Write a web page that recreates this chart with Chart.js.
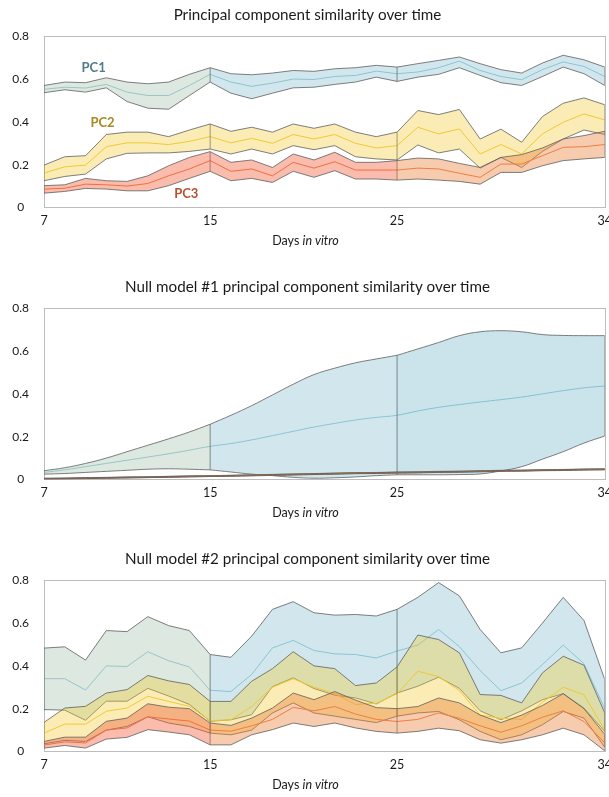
<!DOCTYPE html>
<html>
<head>
<meta charset="utf-8">
<script src="https://cdn.jsdelivr.net/npm/chart.js@4.4.1/dist/chart.umd.min.js"></script>
<style>
  html, body { margin: 0; padding: 0; background: #fff; overflow: hidden; width: 609px; height: 797px; }
  .panel { position: absolute; left: -3px; width: 621px; height: 272px; }
</style>
</head>
<body>
<div class="panel" style="top:0"><canvas id="c1"></canvas></div>
<div class="panel" style="top:272px"><canvas id="c2"></canvas></div>
<div class="panel" style="top:544px"><canvas id="c3"></canvas></div>
<script>
// ---- axis layout: 28 sampled days, labelled at four of them ----
const dayTickPos  = [0, 8, 17, 27];
const dayTickText = ['7', '15', '25', '34'];
const segments    = [[0, 8], [8, 17], [17, 27]];   // recording blocks

// ---- Panel 1: observed principal component similarity ----
const obsPc1Lo   = [0.536,0.550,0.539,0.559,0.495,0.464,0.459,0.523,0.586, 0.534,0.508,0.534,0.559,0.562,0.575,0.586,0.609,0.589, 0.609,0.622,0.653,0.617,0.583,0.570,0.612,0.656,0.625,0.570];
const obsPc1Mean = [0.552,0.562,0.558,0.575,0.539,0.523,0.523,0.570,0.622, 0.586,0.566,0.581,0.600,0.598,0.612,0.617,0.637,0.625, 0.633,0.653,0.684,0.640,0.612,0.597,0.644,0.680,0.659,0.612];
const obsPc1Hi   = [0.570,0.586,0.583,0.606,0.586,0.578,0.586,0.622,0.653, 0.625,0.620,0.628,0.640,0.636,0.648,0.653,0.664,0.656, 0.672,0.687,0.703,0.672,0.644,0.628,0.675,0.711,0.690,0.656];
const obsPc2Lo   = [0.125,0.145,0.156,0.227,0.253,0.255,0.255,0.262,0.273, 0.250,0.273,0.250,0.289,0.270,0.289,0.237,0.227,0.222, 0.292,0.255,0.273,0.184,0.234,0.187,0.262,0.320,0.362,0.341];
const obsPc2Mean = [0.161,0.190,0.198,0.284,0.302,0.302,0.294,0.309,0.331, 0.302,0.323,0.300,0.341,0.320,0.341,0.300,0.278,0.289, 0.375,0.344,0.367,0.250,0.294,0.250,0.344,0.398,0.437,0.409];
const obsPc2Hi   = [0.198,0.237,0.242,0.341,0.352,0.352,0.331,0.362,0.390, 0.356,0.375,0.352,0.390,0.370,0.390,0.352,0.331,0.352, 0.453,0.434,0.458,0.320,0.366,0.305,0.425,0.487,0.512,0.480];
const obsPc3Lo   = [0.067,0.075,0.089,0.086,0.078,0.078,0.102,0.136,0.169, 0.125,0.136,0.117,0.169,0.141,0.172,0.133,0.133,0.128, 0.133,0.128,0.122,0.109,0.164,0.164,0.195,0.219,0.227,0.234];
const obsPc3Mean = [0.086,0.090,0.109,0.106,0.100,0.112,0.148,0.180,0.219, 0.169,0.180,0.148,0.211,0.184,0.214,0.175,0.175,0.175, 0.184,0.180,0.160,0.141,0.203,0.203,0.242,0.281,0.284,0.294];
const obsPc3Hi   = [0.102,0.106,0.136,0.125,0.122,0.148,0.195,0.234,0.261, 0.211,0.222,0.187,0.250,0.222,0.258,0.211,0.211,0.219, 0.231,0.227,0.206,0.187,0.234,0.247,0.278,0.320,0.336,0.356];

// ---- Panel 2: null model #1 ----
const n1Pc1Lo   = [0.025,0.028,0.033,0.038,0.043,0.048,0.050,0.048,0.045, 0.035,0.025,0.018,0.010,0.006,0.008,0.012,0.018,0.022, 0.022,0.022,0.023,0.026,0.040,0.060,0.095,0.130,0.170,0.203];
const n1Pc1Mean = [0.033,0.045,0.060,0.075,0.090,0.105,0.120,0.137,0.155, 0.168,0.185,0.205,0.225,0.245,0.262,0.278,0.290,0.300, 0.320,0.337,0.350,0.362,0.373,0.385,0.400,0.415,0.428,0.437];
const n1Pc1Hi   = [0.041,0.055,0.075,0.100,0.130,0.160,0.190,0.222,0.258, 0.300,0.345,0.395,0.445,0.490,0.520,0.545,0.563,0.580, 0.610,0.640,0.672,0.690,0.695,0.690,0.677,0.673,0.672,0.672];
const n1Pc2Lo   = [0.002,0.003,0.005,0.006,0.008,0.009,0.011,0.013,0.014, 0.016,0.018,0.020,0.022,0.024,0.026,0.028,0.029,0.031, 0.032,0.034,0.035,0.037,0.039,0.040,0.042,0.043,0.045,0.046];
const n1Pc2Mean = [0.004,0.005,0.007,0.008,0.010,0.011,0.013,0.015,0.016, 0.018,0.020,0.022,0.024,0.026,0.028,0.030,0.031,0.033, 0.034,0.036,0.037,0.039,0.041,0.042,0.044,0.045,0.047,0.048];
const n1Pc2Hi   = [0.006,0.007,0.009,0.010,0.012,0.013,0.015,0.017,0.018, 0.020,0.022,0.024,0.026,0.028,0.030,0.032,0.033,0.035, 0.036,0.038,0.039,0.041,0.043,0.044,0.046,0.047,0.049,0.050];
const n1Pc3Lo   = [0.002,0.003,0.004,0.006,0.007,0.009,0.010,0.012,0.014, 0.015,0.017,0.019,0.021,0.023,0.025,0.027,0.028,0.030, 0.031,0.033,0.034,0.036,0.038,0.039,0.041,0.042,0.044,0.045];
const n1Pc3Mean = [0.003,0.004,0.006,0.007,0.009,0.010,0.012,0.014,0.015, 0.017,0.019,0.021,0.023,0.025,0.027,0.029,0.030,0.032, 0.033,0.035,0.036,0.038,0.040,0.041,0.043,0.044,0.046,0.047];
const n1Pc3Hi   = [0.005,0.006,0.008,0.009,0.011,0.012,0.014,0.016,0.017, 0.019,0.021,0.023,0.025,0.027,0.029,0.031,0.032,0.034, 0.035,0.037,0.038,0.040,0.042,0.043,0.045,0.046,0.048,0.049];

// ---- Panel 3: null model #2 ----
const n2Pc1Lo   = [0.196,0.193,0.146,0.235,0.235,0.295,0.259,0.220,0.141, 0.148,0.172,0.303,0.344,0.294,0.263,0.250,0.222,0.273, 0.305,0.347,0.295,0.190,0.148,0.190,0.242,0.270,0.203,0.094];
const n2Pc1Mean = [0.340,0.340,0.287,0.400,0.397,0.466,0.424,0.395,0.286, 0.280,0.360,0.484,0.519,0.472,0.456,0.453,0.437,0.469, 0.497,0.570,0.490,0.378,0.284,0.320,0.406,0.497,0.410,0.200];
const n2Pc1Hi   = [0.483,0.489,0.427,0.565,0.560,0.630,0.588,0.565,0.453, 0.440,0.539,0.664,0.700,0.648,0.637,0.640,0.633,0.664, 0.720,0.789,0.727,0.570,0.461,0.484,0.600,0.720,0.612,0.336];
const n2Pc2Lo   = [0.036,0.052,0.047,0.100,0.117,0.162,0.133,0.117,0.086, 0.078,0.100,0.180,0.227,0.180,0.165,0.150,0.135,0.165, 0.180,0.187,0.148,0.094,0.055,0.078,0.125,0.187,0.156,0.020];
const n2Pc2Mean = [0.086,0.128,0.128,0.188,0.203,0.258,0.234,0.211,0.144, 0.148,0.210,0.300,0.340,0.300,0.270,0.220,0.225,0.270, 0.375,0.350,0.285,0.170,0.155,0.150,0.230,0.300,0.265,0.100];
const n2Pc2Hi   = [0.136,0.203,0.211,0.273,0.289,0.355,0.330,0.313,0.234, 0.234,0.328,0.387,0.466,0.400,0.387,0.308,0.320,0.395, 0.544,0.523,0.461,0.266,0.262,0.227,0.367,0.445,0.403,0.180];
const n2Pc3Lo   = [0.016,0.028,0.016,0.058,0.066,0.102,0.091,0.078,0.031, 0.031,0.078,0.102,0.133,0.117,0.133,0.110,0.094,0.086, 0.094,0.109,0.097,0.055,0.039,0.055,0.078,0.109,0.078,0.003];
const n2Pc3Mean = [0.030,0.045,0.040,0.100,0.110,0.162,0.152,0.142,0.100, 0.095,0.120,0.150,0.206,0.190,0.210,0.175,0.150,0.140, 0.150,0.180,0.155,0.120,0.090,0.120,0.160,0.190,0.140,0.040];
const n2Pc3Hi   = [0.047,0.067,0.067,0.141,0.156,0.223,0.207,0.200,0.133, 0.122,0.156,0.203,0.273,0.242,0.280,0.240,0.205,0.200, 0.210,0.250,0.227,0.170,0.135,0.170,0.215,0.270,0.200,0.080];

// ---- styling ----
const FONT = 'Lato, "Open Sans", sans-serif';
Chart.defaults.font.family = FONT;
Chart.defaults.color = '#1a1a1a';

const OUTLINE = 'rgba(95,95,95,0.8)';
const FILL = {
  sage:   'rgba(130,170,140,0.27)',
  blue:   'rgba(75,160,185,0.25)',
  blue2:  'rgba(70,155,180,0.28)',
  yellow: 'rgba(240,200,40,0.35)',
  salmon: 'rgba(240,95,60,0.42)',
  peach:  'rgba(235,130,60,0.42)'
};
const MEAN = { pc1: '#9fd0dc', pc2: '#f1c93c', pc3: '#f27a45' };
const PAGE_CENTER = 308.5;   // horizontal centre of the page inside each canvas

function pts(arr, a, b) {
  const out = [];
  for (let i = a; i <= b; i++) out.push({ x: i, y: arr[i] });
  return out;
}

// one PC: a closed band per recording block plus its mean trace
function band(lo, mean, hi, fills, meanColor, order, tension) {
  const ds = [];
  const base = { pointRadius: 0, pointHoverRadius: 0, borderWidth: 1, order, tension };
  segments.forEach(([a, b], s) => {
    ds.push({ ...base, data: pts(lo, a, b), borderColor: OUTLINE, fill: false });
    ds.push({ ...base, data: pts(hi, a, b), borderColor: OUTLINE, fill: '-1', backgroundColor: fills[s] });
  });
  // block edges
  dayTickPos.forEach(p => {
    ds.push({ ...base, tension: 0, data: [{ x: p, y: lo[p] }, { x: p, y: hi[p] }], borderColor: OUTLINE, fill: false });
  });
  ds.push({ ...base, data: pts(mean, 0, 27), borderColor: meanColor, fill: false });
  return ds;
}

const framePlugin = {
  id: 'frame',
  beforeDatasetsDraw(chart) {
    const { ctx, chartArea: c } = chart;
    ctx.save();
    ctx.strokeStyle = '#bdbdbd';
    ctx.lineWidth = 1;
    ctx.strokeRect(Math.round(c.left) + 0.5, Math.round(c.top) + 0.5, Math.round(c.right - c.left), Math.round(c.bottom - c.top));
    ctx.restore();
  }
};

// "Days in vitro" with the latin phrase in italics
const xTitlePlugin = {
  id: 'xTitle',
  afterDraw(chart) {
    const { ctx, chartArea: c } = chart;
    const y = c.bottom + 33.5;
    ctx.save();
    ctx.fillStyle = '#1a1a1a';
    ctx.textBaseline = 'middle';
    const f1 = '12.5px ' + FONT, f2 = 'italic 12.5px ' + FONT;
    ctx.font = f1; const w1 = ctx.measureText('Days ').width;
    ctx.font = f2; const w2 = ctx.measureText('in vitro').width;
    const x0 = PAGE_CENTER - (w1 + w2) / 2;
    ctx.font = f1; ctx.textAlign = 'left'; ctx.fillText('Days ', x0, y);
    ctx.font = f2; ctx.fillText('in vitro', x0 + w1, y);
    ctx.restore();
  }
};

const pcLabels = [
  { text: 'PC1', x: 2.39, y: 0.653, color: '#4f7d8b' },
  { text: 'PC2', x: 2.82, y: 0.396, color: '#a68a1e' },
  { text: 'PC3', x: 6.85, y: 0.062, color: '#b8512f' }
];
const pcLabelPlugin = {
  id: 'pcLabels',
  afterDatasetsDraw(chart) {
    const { ctx, scales: { x, y } } = chart;
    ctx.save();
    ctx.font = 'bold 13px ' + FONT;
    ctx.textAlign = 'center';
    ctx.textBaseline = 'middle';
    pcLabels.forEach(l => {
      ctx.fillStyle = l.color;
      ctx.fillText(l.text, x.getPixelForValue(l.x), y.getPixelForValue(l.y));
    });
    ctx.restore();
  }
};

function makeChart(id, title, datasets, extraPlugins) {
  return new Chart(document.getElementById(id), {
    type: 'line',
    data: { datasets },
    plugins: [framePlugin, xTitlePlugin].concat(extraPlugins || []),
    options: {
      responsive: true,
      maintainAspectRatio: false,
      animation: false,
      events: [],
      layout: { padding: { left: 0, right: 0, top: 0, bottom: 37.5 } },
      plugins: {
        legend: { display: false },
        tooltip: { enabled: false },
        title: {
          display: true, text: title, color: '#1a1a1a',
          font: { size: 15.2, weight: 'normal' },
          padding: { top: 6, bottom: 12 }
        }
      },
      scales: {
        x: {
          type: 'linear', min: 0, max: 27,
          grid: { display: false, drawTicks: false },
          border: { display: false },
          afterBuildTicks: s => { s.ticks = dayTickPos.map(v => ({ value: v })); },
          ticks: {
            autoSkip: false, maxRotation: 0, padding: 6,
            font: { size: 12.5 },
            callback: v => dayTickText[dayTickPos.indexOf(v)]
          }
        },
        y: {
          min: 0, max: 0.8,
          grid: { display: false, drawTicks: false },
          border: { display: false },
          afterFit: s => { s.width = 47; },
          ticks: {
            stepSize: 0.2, crossAlign: 'center', padding: 15,
            font: { size: 12 },
            callback: v => (v === 0 ? '0' : v.toFixed(1))
          }
        }
      }
    }
  });
}

makeChart('c1', 'Principal component similarity over time', [].concat(
  band(obsPc3Lo, obsPc3Mean, obsPc3Hi, [FILL.salmon, FILL.salmon, FILL.peach], MEAN.pc3, 1, 0),
  band(obsPc2Lo, obsPc2Mean, obsPc2Hi, [FILL.yellow, FILL.yellow, FILL.yellow], MEAN.pc2, 2, 0),
  band(obsPc1Lo, obsPc1Mean, obsPc1Hi, [FILL.sage, FILL.blue, FILL.blue], MEAN.pc1, 3, 0)
), [pcLabelPlugin]);

makeChart('c2', 'Null model #1 principal component similarity over time', [].concat(
  band(n1Pc3Lo, n1Pc3Mean, n1Pc3Hi, [FILL.salmon, FILL.peach, FILL.peach], MEAN.pc3, 1, 0.4),
  band(n1Pc2Lo, n1Pc2Mean, n1Pc2Hi, [FILL.yellow, FILL.yellow, FILL.yellow], MEAN.pc2, 2, 0.4),
  band(n1Pc1Lo, n1Pc1Mean, n1Pc1Hi, [FILL.sage, FILL.blue, FILL.blue2], MEAN.pc1, 3, 0.4)
));

makeChart('c3', 'Null model #2 principal component similarity over time', [].concat(
  band(n2Pc3Lo, n2Pc3Mean, n2Pc3Hi, [FILL.salmon, FILL.peach, FILL.peach], MEAN.pc3, 1, 0),
  band(n2Pc2Lo, n2Pc2Mean, n2Pc2Hi, [FILL.yellow, FILL.yellow, FILL.yellow], MEAN.pc2, 2, 0),
  band(n2Pc1Lo, n2Pc1Mean, n2Pc1Hi, [FILL.sage, FILL.blue, FILL.blue], MEAN.pc1, 3, 0)
));
</script>
</body>
</html>
